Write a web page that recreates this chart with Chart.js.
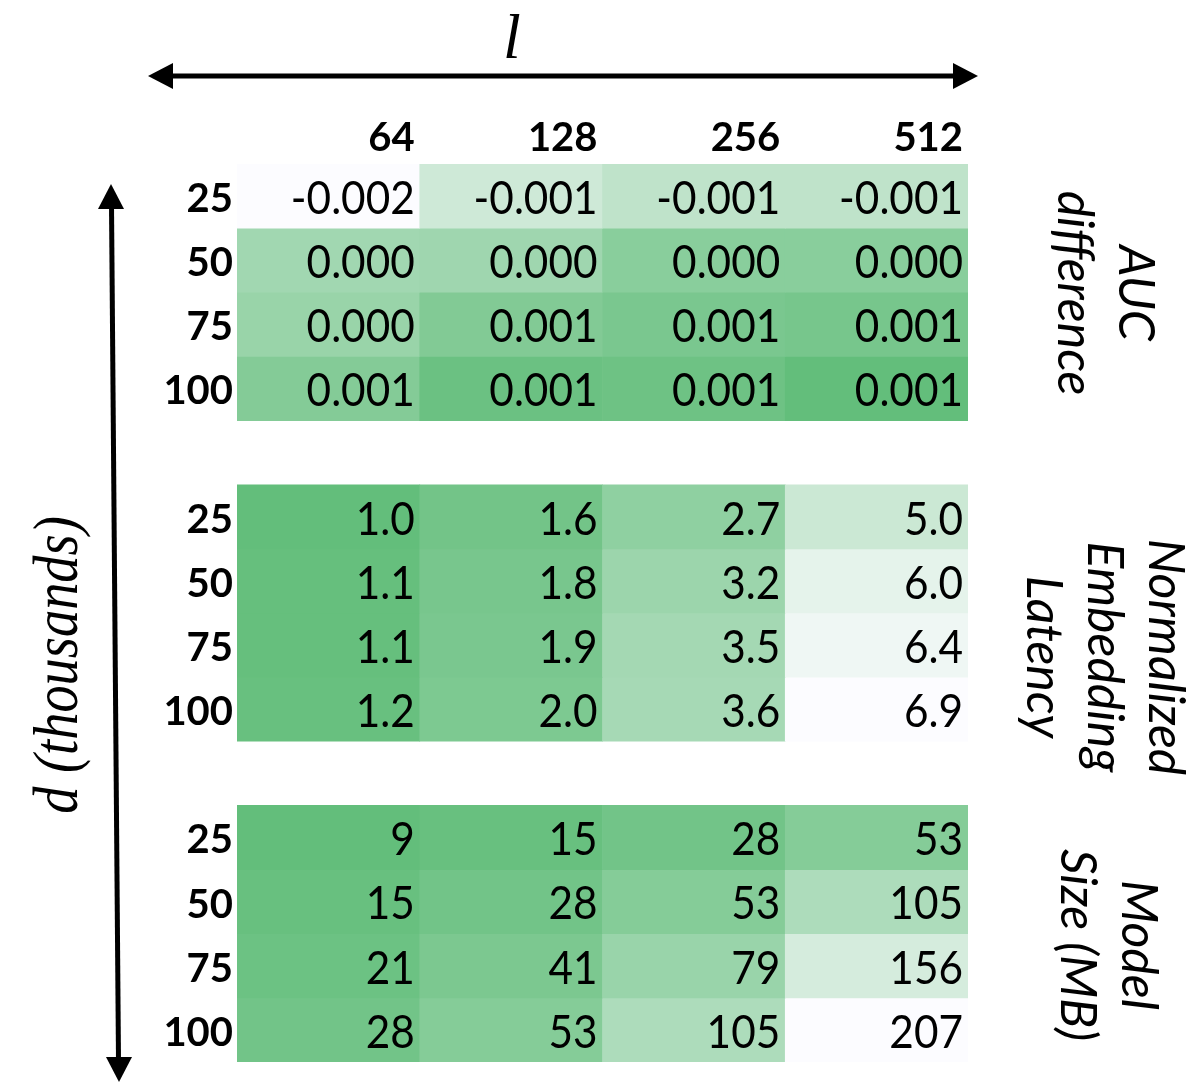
<!DOCTYPE html>
<html>
<head>
<meta charset="utf-8">
<script src="https://cdn.jsdelivr.net/npm/chart.js@4/dist/chart.umd.min.js"></script>
<style>
  html, body { margin: 0; padding: 0; background: #ffffff; }
  #wrap { width: 1196px; height: 1091px; position: relative; }
</style>
</head>
<body>
<div id="wrap"><canvas id="c" width="1196" height="1091"></canvas></div>
<script>
// ---- Data ----
const colLabels = ['64', '128', '256', '512'];          // l
const rowLabels = ['25', '50', '75', '100'];            // d (thousands)
const groupTitles = [
  ['AUC', 'difference'],
  ['Normalized', 'Embedding', 'Latency'],
  ['Model', 'Size (MB)']
];
// AUC difference (estimated unrounded values, shown to 3 decimals)
const aucDiff = [
  [-0.00200, -0.00104, -0.00072, -0.00072],
  [-0.00010, -0.00005,  0.00040,  0.00040],
  [ 0.00008,  0.00056,  0.00072,  0.00078],
  [ 0.00052,  0.00104,  0.00098,  0.00120]
];
const latency = [
  [1.0, 1.6, 2.7, 5.0],
  [1.1, 1.8, 3.2, 6.0],
  [1.1, 1.9, 3.5, 6.4],
  [1.2, 2.0, 3.6, 6.9]
];
const modelSize = [
  [9, 15, 28, 53],
  [15, 28, 53, 105],
  [21, 41, 79, 156],
  [28, 53, 105, 207]
];

// ---- Helpers ----
const LOW = [252, 252, 255], HIGH = [99, 190, 123];
function mix(t) {
  t = Math.max(0, Math.min(1, t));
  const c = LOW.map((l, i) => Math.round(l + (HIGH[i] - l) * t));
  return `rgb(${c[0]},${c[1]},${c[2]})`;
}
function scaleColors(mat, higherIsGreen) {
  const flat = mat.flat();
  const mn = Math.min(...flat), mx = Math.max(...flat);
  return mat.map(r => r.map(v => {
    const t = (v - mn) / (mx - mn);
    return mix(higherIsGreen ? t : 1 - t);
  }));
}
const groups = [
  { values: aucDiff, colors: scaleColors(aucDiff, true),
    fmt: v => (Math.round(v * 1000) / 1000 + 0).toFixed(3) },
  { values: latency, colors: scaleColors(latency, false), fmt: v => v.toFixed(1) },
  { values: modelSize, colors: scaleColors(modelSize, false), fmt: v => String(v) }
];

// one dataset per row; each group occupies 4 row units plus a 1-unit gap
const datasets = [];
groups.forEach((g, gi) => {
  g.values.forEach((row, ri) => {
    const y0 = gi * 5 + ri;
    datasets.push({
      label: `g${gi}r${ri}`,
      data: row.map(() => [y0, y0 + 1]),
      backgroundColor: g.colors[ri],
      borderWidth: 0,
      grouped: false,
      barPercentage: 1,
      categoryPercentage: 1
    });
  });
});

const textPlugin = {
  id: 'heatText',
  afterDatasetsDraw(chart) {
    const ctx = chart.ctx;
    const xs = chart.scales.x, ys = chart.scales.y;
    const colW = xs.getPixelForValue(1) - xs.getPixelForValue(0);
    ctx.save();
    ctx.fillStyle = '#000';

    // cell values
    ctx.textAlign = 'right';
    ctx.textBaseline = 'middle';
    const sx = 0.92;
    ctx.font = '46px Lato';
    groups.forEach((g, gi) => {
      g.values.forEach((row, ri) => {
        const yc = (ys.getPixelForValue(gi * 5 + ri) + ys.getPixelForValue(gi * 5 + ri + 1)) / 2 + 3;
        row.forEach((v, ci) => {
          const xr = xs.getPixelForValue(ci) + colW / 2 - 5;
          ctx.save();
          ctx.translate(xr, yc);
          ctx.scale(sx, 1);
          ctx.fillText(g.fmt(v), 0, 0);
          ctx.restore();
        });
      });
    });

    // column headers
    ctx.font = 'bold 40px Lato';
    const top = ys.getPixelForValue(0);
    colLabels.forEach((lab, ci) => {
      const xr = xs.getPixelForValue(ci) + colW / 2 - 5;
      ctx.fillText(lab, xr, top - 26);
    });
    // row labels
    const left = xs.getPixelForValue(0) - colW / 2;
    groups.forEach((g, gi) => {
      rowLabels.forEach((lab, ri) => {
        const yc = (ys.getPixelForValue(gi * 5 + ri) + ys.getPixelForValue(gi * 5 + ri + 1)) / 2 + 3;
        ctx.fillText(lab, left - 4, yc);
      });
    });

    // group titles on the right (rotated, reading top to bottom)
    ctx.font = 'italic 50px Lato';
    ctx.textAlign = 'center';
    const titleX = [1135, 1165, 1138];
    const titleY = [293, 657, 945];
    groupTitles.forEach((lines, gi) => {
      ctx.save();
      ctx.translate(titleX[gi], titleY[gi]);
      ctx.rotate(Math.PI / 2);
      lines.forEach((ln, li) => ctx.fillText(ln, 0, li * 61));
      ctx.restore();
    });

    // arrows
    ctx.strokeStyle = '#000';
    ctx.lineWidth = 5;
    ctx.beginPath();
    ctx.moveTo(170, 76); ctx.lineTo(955, 76);
    ctx.stroke();
    ctx.beginPath();
    ctx.moveTo(148, 76); ctx.lineTo(173, 63); ctx.lineTo(173, 89); ctx.closePath(); ctx.fill();
    ctx.beginPath();
    ctx.moveTo(978, 76); ctx.lineTo(953, 63); ctx.lineTo(953, 89); ctx.closePath(); ctx.fill();

    ctx.beginPath();
    ctx.moveTo(111.5, 205); ctx.lineTo(118.5, 1060);
    ctx.stroke();
    ctx.beginPath();
    ctx.moveTo(111, 184); ctx.lineTo(98, 209); ctx.lineTo(124, 209); ctx.closePath(); ctx.fill();
    ctx.beginPath();
    ctx.moveTo(119, 1082); ctx.lineTo(106, 1057); ctx.lineTo(132, 1057); ctx.closePath(); ctx.fill();

    // axis titles
    ctx.font = 'italic 64px "Liberation Serif"';
    ctx.textAlign = 'center';
    ctx.textBaseline = 'alphabetic';
    ctx.fillText('l', 512, 58);

    ctx.save();
    ctx.translate(77, 665);
    ctx.rotate(-Math.PI / 2);
    ctx.scale(0.85, 1);
    ctx.font = 'italic 64px "Liberation Serif"';
    ctx.textBaseline = 'alphabetic';
    ctx.fillText('d (thousands)', 0, 0);
    ctx.restore();

    ctx.restore();
  }
};

new Chart(document.getElementById('c'), {
  type: 'bar',
  data: { labels: colLabels, datasets },
  options: {
    responsive: false,
    animation: false,
    events: [],
    layout: { padding: { left: 237, right: 228, top: 164, bottom: 29 } },
    plugins: { legend: { display: false }, tooltip: { enabled: false } },
    scales: {
      x: { type: 'category', display: false, offset: true, grid: { display: false } },
      y: { type: 'linear', display: false, min: 0, max: 14, reverse: true, grid: { display: false } }
    }
  },
  plugins: [textPlugin]
});
</script>
</body>
</html>
